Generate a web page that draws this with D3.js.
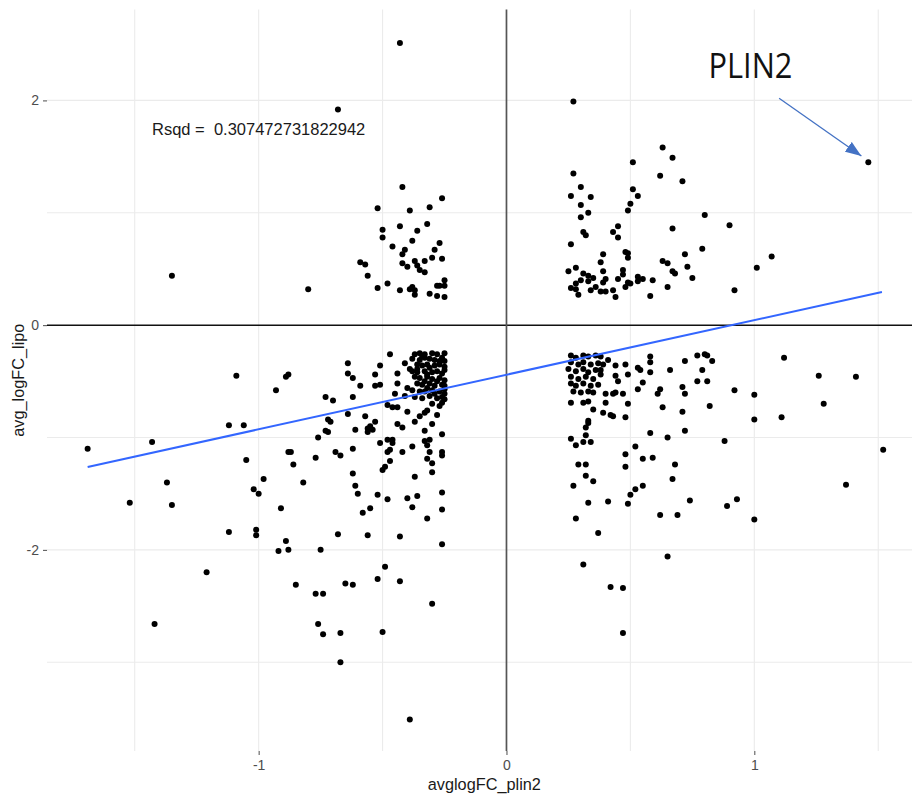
<!DOCTYPE html>
<html>
<head>
<meta charset="utf-8">
<script src="https://cdn.jsdelivr.net/npm/d3@7"></script>
<style>
  html, body { margin: 0; padding: 0; background: #fff; }
  svg { display: block; font-family: "Liberation Sans", Arial, sans-serif; }
</style>
</head>
<body>
<div id="chart"></div>
<script>
// Scatter — avglogFC_plin2 vs avg_logFC_lipo, with fitted line and PLIN2 callout
// points as [avglogFC_plin2, avg_logFC_lipo], grouped by cluster
const upperLeft = [
  [-0.43,2.51],[-0.68,1.92],[-0.42,1.23],[-0.26,1.13],[-1.35,0.44],
  [-0.52,1.04],[-0.39,1.02],[-0.31,1.05],[-0.32,0.90],[-0.50,0.85],[-0.43,0.88],[-0.36,0.84],
  [-0.50,0.78],[-0.38,0.75],[-0.27,0.73],[-0.46,0.70],[-0.41,0.67],[-0.29,0.67],[-0.42,0.63],
  [-0.30,0.60],[-0.26,0.59],[-0.59,0.56],[-0.57,0.54],[-0.42,0.55],[-0.40,0.52],[-0.37,0.57],
  [-0.36,0.53],[-0.33,0.57],[-0.35,0.49],[-0.33,0.47],[-0.56,0.44],[-0.25,0.40],[-0.80,0.32],
  [-0.52,0.33],[-0.48,0.37],[-0.43,0.31],[-0.39,0.32],[-0.38,0.34],[-0.37,0.31],[-0.37,0.27],
  [-0.31,0.28],[-0.28,0.35],[-0.27,0.35],[-0.25,0.35],[-0.28,0.26],[-0.25,0.25]
];

const upperRight = [
  [0.27,1.99],[0.27,1.35],[0.30,1.23],[0.26,1.15],[0.34,1.14],[0.63,1.58],[0.67,1.49],
  [0.51,1.45],[0.62,1.33],[0.71,1.28],[0.51,1.21],[0.53,1.15],[1.46,1.45],
  [0.30,1.07],[0.33,1.00],[0.30,0.96],[0.31,0.83],[0.32,0.80],[0.26,0.72],[0.25,0.48],
  [0.28,0.51],[0.31,0.46],[0.33,0.44],[0.35,0.42],[0.30,0.40],[0.28,0.37],[0.26,0.33],
  [0.28,0.32],[0.29,0.27],[0.34,0.31],[0.36,0.34],[0.33,0.39],
  [0.50,1.08],[0.49,1.02],[0.80,0.98],[0.67,0.86],[0.90,0.89],[0.45,0.88],[0.43,0.83],
  [0.45,0.78],[0.48,0.65],[0.49,0.64],[0.49,0.60],[0.39,0.63],[0.38,0.56],[0.72,0.63],
  [0.79,0.68],[1.07,0.61],[1.01,0.51],[0.63,0.57],[0.65,0.55],[0.67,0.48],[0.68,0.46],
  [0.73,0.52],[0.75,0.42],[0.65,0.34],[0.92,0.31],[0.58,0.26],[0.59,0.40],[0.55,0.41],
  [0.53,0.43],[0.53,0.39],[0.47,0.49],[0.47,0.45],[0.45,0.41],[0.49,0.38],[0.50,0.37],
  [0.48,0.34],[0.39,0.48],[0.40,0.41],[0.39,0.38],[0.40,0.30],[0.43,0.31],[0.44,0.25],[0.38,0.30]
];

const lowerLeftOuter = [
  [-1.09,-0.45],[-0.88,-0.44],[-0.89,-0.46],[-0.93,-0.58],[-1.69,-1.10],[-1.43,-1.04],
  [-1.12,-0.89],[-1.06,-0.89],[-1.05,-1.20],[-0.88,-1.13],[-0.87,-1.13],[-0.86,-1.24],
  [-1.37,-1.40],[-0.98,-1.37],[-1.02,-1.46],[-1.00,-1.50],[-1.52,-1.58],[-1.35,-1.60],
  [-0.91,-1.63],[-1.12,-1.84],[-1.01,-1.82],[-1.01,-1.87],[-0.89,-1.92],[-0.92,-2.01],
  [-0.88,-2.00],[-1.21,-2.20],[-0.85,-2.31],[-1.42,-2.66]
];

const lowerLeftCore = [
  [-0.47,-0.26],[-0.64,-0.34],[-0.51,-0.36],[-0.41,-0.34],[-0.64,-0.43],[-0.62,-0.47],
  [-0.53,-0.44],[-0.59,-0.54],[-0.53,-0.54],[-0.51,-0.53],[-0.44,-0.43],[-0.44,-0.52],
  [-0.45,-0.61],[-0.39,-0.39],[-0.73,-0.64],[-0.62,-0.64],
  [-0.37,-0.26],[-0.35,-0.25],[-0.33,-0.26],[-0.30,-0.25],[-0.28,-0.26],[-0.25,-0.25],
  [-0.38,-0.30],[-0.35,-0.31],[-0.33,-0.29],[-0.31,-0.30],[-0.29,-0.31],[-0.26,-0.29],[-0.25,-0.32],
  [-0.36,-0.35],[-0.34,-0.36],[-0.32,-0.35],[-0.29,-0.36],[-0.27,-0.35],[-0.25,-0.37],
  [-0.38,-0.41],[-0.36,-0.42],[-0.33,-0.41],[-0.30,-0.42],[-0.28,-0.41],[-0.26,-0.43],
  [-0.37,-0.46],[-0.35,-0.47],[-0.32,-0.46],[-0.30,-0.48],[-0.27,-0.47],[-0.25,-0.49],
  [-0.36,-0.52],[-0.34,-0.53],[-0.31,-0.52],[-0.29,-0.54],[-0.26,-0.53],
  [-0.38,-0.58],[-0.35,-0.59],[-0.33,-0.59],[-0.30,-0.58],[-0.27,-0.59],[-0.25,-0.57],
  [-0.41,-0.63],[-0.37,-0.64],[-0.34,-0.65],[-0.31,-0.63],[-0.28,-0.65],[-0.26,-0.64],
  [-0.34,-0.28],[-0.27,-0.32],[-0.31,-0.38],[-0.36,-0.39],[-0.25,-0.40],[-0.32,-0.44],
  [-0.28,-0.50],[-0.33,-0.50],[-0.25,-0.54],[-0.32,-0.56],[-0.29,-0.61],[-0.40,-0.56],
  [-0.25,-0.61],[-0.25,-0.66]
];

const lowerLeftTail = [
  [-0.70,-0.67],[-0.64,-0.79],[-0.72,-0.84],[-0.71,-0.86],[-0.73,-0.94],[-0.72,-0.95],
  [-0.76,-1.00],[-0.57,-0.81],[-0.53,-0.86],[-0.55,-0.90],[-0.56,-0.95],[-0.54,-0.93],
  [-0.56,-0.92],[-0.61,-0.93],[-0.62,-1.10],[-0.69,-1.13],[-0.67,-1.16],[-0.77,-1.18],
  [-0.82,-1.40],[-0.51,-1.05],[-0.48,-1.02],[-0.46,-1.02],[-0.46,-1.05],[-0.47,-1.11],
  [-0.48,-1.13],[-0.42,-1.13],[-0.47,-1.21],[-0.49,-1.26],[-0.50,-1.29],[-0.62,-1.32],
  [-0.61,-1.43],[-0.60,-1.50],[-0.52,-1.51],[-0.48,-1.55],[-0.40,-1.54],[-0.36,-1.52],
  [-0.38,-1.62],[-0.26,-1.49],[-0.26,-1.64],[-0.32,-1.72],[-0.55,-1.63],[-0.58,-1.67],
  [-0.68,-1.86],[-0.56,-1.87],[-0.43,-1.88],[-0.26,-1.95],[-0.75,-2.00],[-0.49,-2.15],
  [-0.52,-2.26],[-0.43,-2.28],[-0.65,-2.30],[-0.62,-2.31],[-0.77,-2.39],[-0.74,-2.39],
  [-0.48,-0.71],[-0.46,-0.73],[-0.44,-0.73],[-0.40,-0.77],[-0.37,-0.86],[-0.35,-0.81],
  [-0.33,-0.78],[-0.32,-0.76],[-0.30,-0.70],[-0.27,-0.72],[-0.26,-0.69],[-0.28,-0.80],
  [-0.30,-0.88],[-0.44,-0.88],[-0.42,-0.91],[-0.33,-0.94],[-0.26,-0.97],[-0.33,-1.03],
  [-0.31,-1.02],[-0.32,-1.07],[-0.38,-1.08],[-0.31,-1.13],[-0.26,-1.13],[-0.26,-1.16],
  [-0.32,-1.19],[-0.30,-1.23],[-0.30,-1.31],[-0.37,-1.35],
  [-0.30,-2.48],[-0.76,-2.66],[-0.74,-2.75],[-0.67,-2.74],[-0.50,-2.73],[-0.67,-3.00],[-0.39,-3.51]
];

const lowerRight = [
  [0.26,-0.27],[0.28,-0.29],[0.31,-0.27],[0.33,-0.28],[0.36,-0.27],[0.38,-0.28],
  [0.26,-0.33],[0.29,-0.35],[0.31,-0.33],[0.34,-0.35],[0.37,-0.34],
  [0.25,-0.39],[0.28,-0.41],[0.31,-0.39],[0.33,-0.42],[0.36,-0.40],
  [0.26,-0.46],[0.29,-0.48],[0.32,-0.46],[0.35,-0.48],
  [0.26,-0.52],[0.28,-0.54],[0.31,-0.52],[0.34,-0.54],[0.37,-0.53],
  [0.27,-0.59],[0.30,-0.60],[0.33,-0.59],[0.35,-0.60],
  [1.12,-0.29],[1.26,-0.45],[1.41,-0.46],[0.41,-0.31],[0.39,-0.35],[0.38,-0.40],[0.38,-0.44],
  [0.44,-0.36],[0.44,-0.45],[0.45,-0.50],[0.48,-0.35],[0.49,-0.44],[0.53,-0.38],[0.54,-0.40],
  [0.58,-0.28],[0.58,-0.33],[0.58,-0.42],[0.55,-0.51],[0.66,-0.40],[0.72,-0.32],[0.77,-0.27],
  [0.80,-0.26],[0.81,-0.27],[0.83,-0.32],[0.79,-0.40],[0.77,-0.50],[0.81,-0.50],[0.71,-0.55],
  [0.72,-0.61],[0.62,-0.57],[0.61,-0.61],[0.53,-0.57],[0.92,-0.58],[1.00,-0.62],[0.40,-0.61],
  [0.43,-0.61],[0.44,-0.60],[0.47,-0.61],
  [0.26,-0.69],[0.31,-0.69],[0.33,-0.68],[0.35,-0.75],[0.33,-0.85],[0.33,-0.87],[0.32,-0.91],
  [0.32,-0.98],[0.31,-1.04],[0.34,-1.04],[0.26,-1.01],[0.28,-1.07],[0.29,-1.24],[0.32,-1.24],
  [0.32,-1.34],[0.35,-1.39],[0.27,-1.43],[0.33,-1.58],[0.28,-1.72],[0.37,-1.85],[0.31,-2.13],
  [0.40,-0.69],[0.49,-0.70],[0.39,-0.78],[0.42,-0.80],[0.43,-0.81],[0.48,-0.82],[0.63,-0.73],
  [0.71,-0.77],[0.82,-0.72],[1.28,-0.70],[1.00,-0.84],[1.11,-0.82],[0.58,-0.96],[0.65,-1.00],
  [0.72,-0.94],[0.88,-1.03],[1.52,-1.11],[0.52,-1.08],[0.48,-1.15],[0.55,-1.19],[0.59,-1.18],
  [0.68,-1.24],[0.48,-1.26],[0.67,-1.37],[1.37,-1.42],[0.55,-1.43],[0.52,-1.46],[0.50,-1.51],
  [0.41,-1.57],[0.49,-1.59],[0.74,-1.56],[0.93,-1.55],[0.89,-1.61],[0.62,-1.69],[0.69,-1.69],
  [1.00,-1.73],[0.65,-2.06],[0.42,-2.33],[0.47,-2.34],[0.47,-2.74]
];

// fitted line (lm) at the data extremes
const fitX = [-1.69, 1.515];
const fitY = [-1.262, 0.295];

const xMajor = [-1, 0, 1];
const xMinor = [-1.5, -0.5, 0.5, 1.5];
const yMajor = [-2, 0, 2];
const yMinor = [-3, -1, 1];

const rsqdLabel = "Rsqd =  0.307472731822942";
const rsqdAt = [-1, 1.75];
const calloutLabel = "PLIN2";
const calloutTextAt = [0.815, 2.20];
const calloutFrom = [1.10, 2.02];
const calloutTo = [1.432, 1.505];

(function(){
  const width = 912, height = 798;
  const panel = {left: 47, right: 921.6, top: 9.4, bottom: 751};

  const svg = d3.select("#chart").append("svg")
    .attr("width", width)
    .attr("height", height);

  svg.append("rect").attr("width", width).attr("height", height).attr("fill", "#fff");

  const x = d3.scaleLinear().domain([-1.854, 1.675]).range([panel.left, panel.right]);
  const y = d3.scaleLinear().domain([-3.79, 2.81]).range([panel.bottom, panel.top]);

  // grid
  const grid = svg.append("g");
  grid.selectAll(".vminor").data(xMinor.concat(xMajor.filter(d => d !== 0))).join("line")
    .attr("x1", d => x(d)).attr("x2", d => x(d))
    .attr("y1", panel.top).attr("y2", panel.bottom)
    .attr("stroke", "#ebebeb").attr("stroke-width", 1.1);
  grid.selectAll(".hminor").data(yMinor.concat(yMajor.filter(d => d !== 0))).join("line")
    .attr("y1", d => y(d)).attr("y2", d => y(d))
    .attr("x1", panel.left).attr("x2", panel.right)
    .attr("stroke", "#ebebeb").attr("stroke-width", 1.1);

  // zero reference lines
  svg.append("line")
    .attr("x1", panel.left).attr("x2", panel.right)
    .attr("y1", y(0)).attr("y2", y(0))
    .attr("stroke", "#111").attr("stroke-width", 1.5);
  svg.append("line")
    .attr("x1", x(0)).attr("x2", x(0))
    .attr("y1", panel.top).attr("y2", panel.bottom)
    .attr("stroke", "#555").attr("stroke-width", 1.7);

  // axes
  const axX = svg.append("g")
    .attr("transform", `translate(0,${panel.bottom})`)
    .call(d3.axisBottom(x).tickValues(xMajor).tickSize(4).tickPadding(5).tickFormat(d => String(d)));
  const axY = svg.append("g")
    .attr("transform", `translate(${panel.left},0)`)
    .call(d3.axisLeft(y).tickValues(yMajor).tickSize(4).tickPadding(4).tickFormat(d => String(d)));
  [axX, axY].forEach(a => {
    a.select(".domain").remove();
    a.selectAll("line").attr("stroke", "#4d4d4d");
    a.selectAll("text")
      .attr("fill", "#4d4d4d")
      .style("font-family", "'Liberation Sans', Arial, sans-serif")
      .style("font-size", "14px");
  });

  // axis titles
  svg.append("text")
    .attr("x", (panel.left + panel.right) / 2)
    .attr("y", 790)
    .attr("text-anchor", "middle")
    .style("font-size", "16.3px")
    .attr("fill", "#1a1a1a")
    .text("avglogFC_plin2");
  svg.append("text")
    .attr("transform", `translate(24,${(panel.top + panel.bottom) / 2}) rotate(-90)`)
    .attr("text-anchor", "middle")
    .style("font-size", "16.3px")
    .attr("fill", "#1a1a1a")
    .text("avg_logFC_lipo");

  // points
  const points = upperLeft.concat(upperRight, lowerLeftOuter, lowerLeftCore, lowerLeftTail, lowerRight);
  svg.append("g").selectAll("circle")
    .data(points)
    .join("circle")
    .attr("cx", d => x(d[0]))
    .attr("cy", d => y(d[1]))
    .attr("r", 3)
    .attr("fill", "#000");

  // fitted line
  const line = d3.line().x(d => x(d[0])).y(d => y(d[1]));
  svg.append("path")
    .datum(fitX.map((v, i) => [v, fitY[i]]))
    .attr("fill", "none")
    .attr("stroke", "#3366ff")
    .attr("stroke-width", 2)
    .attr("d", line);

  // Rsqd annotation
  svg.append("text")
    .attr("x", x(rsqdAt[0]))
    .attr("y", y(rsqdAt[1]) + 6)
    .attr("text-anchor", "middle")
    .style("font-size", "16.5px")
    .style("white-space", "pre")
    .attr("fill", "#1a1a1a")
    .text(rsqdLabel);

  // PLIN2 callout
  svg.append("defs").append("marker")
    .attr("id", "head")
    .attr("markerUnits", "userSpaceOnUse")
    .attr("viewBox", "0 0 16 12")
    .attr("refX", 16).attr("refY", 6)
    .attr("markerWidth", 16).attr("markerHeight", 12)
    .attr("orient", "auto")
    .append("path")
    .attr("d", "M0,0 L16,6 L0,12 Z")
    .attr("fill", "#4472c4");
  svg.append("line")
    .attr("x1", x(calloutFrom[0])).attr("y1", y(calloutFrom[1]))
    .attr("x2", x(calloutTo[0])).attr("y2", y(calloutTo[1]))
    .attr("stroke", "#4472c4")
    .attr("stroke-width", 1.3)
    .attr("marker-end", "url(#head)");
  svg.append("text")
    .attr("x", x(calloutTextAt[0]))
    .attr("y", y(calloutTextAt[1]))
    .style("font-family", "'Open Sans', 'Noto Sans', sans-serif")
    .style("font-size", "34px")
    .attr("textLength", 84)
    .attr("lengthAdjust", "spacingAndGlyphs")
    .attr("fill", "#111")
    .text(calloutLabel);
})();
</script>
</body>
</html>
